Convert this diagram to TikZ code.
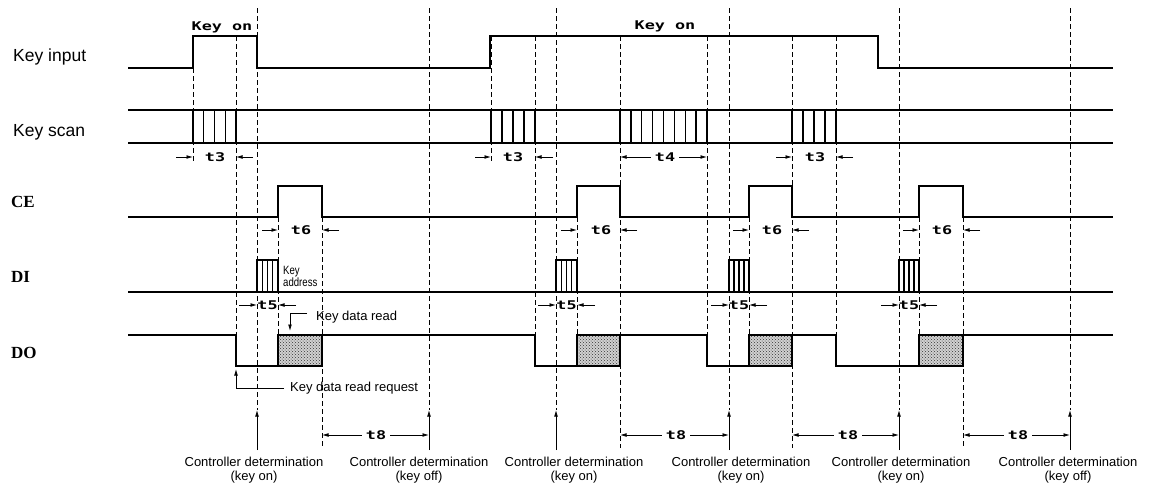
\documentclass[tikz,border=0pt]{standalone}
\usepackage{fontspec}
\setmainfont{Liberation Sans}
\newfontfamily\serifb{Liberation Serif}
\newfontfamily\plotfont{DejaVu Sans Mono}
\usetikzlibrary{arrows.meta,patterns}
\newcommand\plt[1]{\scalebox{1.4}[1]{#1}}
\begin{document}
\begin{tikzpicture}[x=1pt,y=-1pt,
  sig/.style={line width=1.6pt, line join=miter},
  bar/.style={line width=1.4pt},
  dsh/.style={line width=0.9pt, dash pattern=on 5pt off 3pt},
  arr/.style={line width=0.8pt,-{Latex[length=6.5pt,width=3.8pt]}},
  lbl/.style={anchor=west, inner sep=0pt, font=\fontsize{17.5}{20}\selectfont},
  lblser/.style={anchor=west, inner sep=0pt, font=\fontsize{17}{20}\serifb\bfseries},
  tl/.style={inner sep=0pt, font=\fontsize{12}{12}\plotfont\bfseries},
  ctl/.style={align=center, inner sep=0pt, font=\fontsize{13}{14}\selectfont},
  note/.style={anchor=west, inner sep=0pt, font=\fontsize{13}{14}\selectfont},
  small/.style={anchor=west, inner sep=0pt, align=left, font=\fontsize{12}{13}\selectfont},
  shadebase/.style={fill=black!18},
  shade/.style={pattern=crosshatch dots, pattern color=black!80},
]
\useasboundingbox (0,0) rectangle (1149,488);

% ---------- signal labels ----------
\node[lbl] (lki) at (13,57) {Key input};
\node[lbl] (lks) at (13,132) {Key scan};
\node[lblser] (lce) at (11,202) {CE};
\node[lblser] (ldi) at (11,277) {DI};
\node[lblser] (ldo) at (11,353) {DO};

% ---------- dashed guide lines ----------
\foreach \x/\ya/\yb in {193/36/163, 236/36/335, 278/217/335, 322/217/448,
  491/36/163, 535/36/335, 577/217/335, 620/36/448, 707/36/335, 749/217/335,
  792/36/448, 836/36/335, 919/217/335, 963/217/448}
  \draw[dsh] (\x,\ya) -- (\x,\yb);

% controller determination lines
\foreach \x in {257,429,556,729,899,1070} {
  \draw[dsh] (\x,8) -- (\x,410);
  \draw[arr] (\x,450) -- (\x,410);
}

% ---------- Key input ----------
\draw[sig] (128,68) -- (193,68) -- (193,36) -- (257,36) -- (257,68) -- (490,68)
  -- (490,36) -- (878,36) -- (878,68) -- (1113,68);
\node[tl] (kon1) at (222,27) {\plt{Key on}};
\node[tl] (kon2) at (665,26) {\plt{Key on}};

% ---------- Key scan ----------
\draw[sig] (128,110) -- (1113,110);
\draw[sig] (128,143) -- (1113,143);
\foreach \a/\b/\n in {193/236/4, 491/535/4, 620/707/8, 792/836/4}
  \foreach \k in {0,...,\n}
    \draw[bar] ({\a+\k*(\b-\a)/\n},110) -- ({\a+\k*(\b-\a)/\n},143);

% t3 / t4
\node[tl] (t3a) at (215,157) {\plt{t3}};
\draw[arr] (176,157) -- (193,157);
\draw[arr] (253,157) -- (236,157);
\node[tl] (t3b) at (513,157) {\plt{t3}};
\draw[arr] (475,157) -- (491,157);
\draw[arr] (553,157) -- (535,157);
\node[tl] (t4) at (665,157) {\plt{t4}};
\draw[arr] ([xshift=-4pt]t4.west) -- (620,157);
\draw[arr] ([xshift=4pt]t4.east) -- (707,157);
\node[tl] (t3c) at (815,157) {\plt{t3}};
\draw[arr] (776,157) -- (792,157);
\draw[arr] (853,157) -- (836,157);

% ---------- CE ----------
\draw[sig] (128,217) -- (278,217) -- (278,186) -- (322,186) -- (322,217)
  -- (577,217) -- (577,186) -- (620,186) -- (620,217)
  -- (749,217) -- (749,186) -- (792,186) -- (792,217)
  -- (919,217) -- (919,186) -- (963,186) -- (963,217) -- (1113,217);

\foreach \a/\b/\c/\nm in {278/322/301/t6a, 577/620/601/t6b, 749/792/772/t6c, 919/963/942/t6d} {
  \node[tl] (\nm) at (\c,230) {\plt{t6}};
  \draw[arr] (\a-16,230) -- (\a,230);
  \draw[arr] (\b+17,230) -- (\b,230);
}

% ---------- DI ----------
\draw[sig] (128,292) -- (1113,292);
\foreach \a/\b in {257/278, 556/577, 729/749, 899/919} {
  \draw[sig] (\a,292) -- (\a,260) -- (\b,260) -- (\b,292);
  \foreach \k in {1,2,3}
    \draw[bar] ({\a+\k*(\b-\a)/4},260) -- ({\a+\k*(\b-\a)/4},292);
}
\node[small] (kaddr) at (283,276) {\scalebox{0.8}[1]{Key}\\[-1pt]\scalebox{0.8}[1]{address}};

\foreach \a/\b/\nm in {257/278/t5a, 556/577/t5b, 729/749/t5c, 899/919/t5d} {
  \node[tl] (\nm) at ({(\a+\b)/2},305) {\plt{t5}};
  \draw[arr] (\a-18,305) -- (\a,305);
  \draw[arr] (\b+18,305) -- (\b,305);
}

% key data read
\node[note] (kdr) at (316,317) {Key data read};
\draw[arr] (307,313) -- (290,313) -- (290,331);

% ---------- DO ----------
\foreach \a/\b in {278/322, 577/620, 749/792, 919/963} {
  \fill[shadebase] (\a,335) rectangle (\b,366);
  \fill[shade] (\a,335) rectangle (\b,366);
}
\draw[sig] (128,335) -- (236,335) -- (236,366) -- (322,366) -- (322,335)
  -- (535,335) -- (535,366) -- (620,366) -- (620,335)
  -- (707,335) -- (707,366) -- (792,366) -- (792,335)
  -- (836,335) -- (836,366) -- (963,366) -- (963,335) -- (1113,335);
\foreach \a/\b in {278/322, 577/620, 749/792, 919/963}
  \draw[sig] (\a,366) -- (\a,335) -- (\b,335);

% key data read request
\node[note] (kdrr) at (290,388) {Key data read request};
\draw[arr] (284,388) -- (236,388) -- (236,369);

% ---------- t8 ----------
\foreach \a/\b/\c/\nm in {322/429/376/t8a, 620/729/676/t8b, 792/899/848/t8c, 963/1070/1018/t8d} {
  \node[tl] (\nm) at (\c,435) {\plt{t8}};
  \draw[arr] ([xshift=-4pt]\nm.west) -- (\a,435);
  \draw[arr] ([xshift=4pt]\nm.east) -- (\b,435);
}

% ---------- controller determination labels ----------
\node[ctl] (cd1) at (254,470) {Controller determination\\(key on)};
\node[ctl] (cd2) at (419,470) {Controller determination\\(key off)};
\node[ctl] (cd3) at (574,470) {Controller determination\\(key on)};
\node[ctl] (cd4) at (741,470) {Controller determination\\(key on)};
\node[ctl] (cd5) at (901,470) {Controller determination\\(key on)};
\node[ctl] (cd6) at (1068,470) {Controller determination\\(key off)};
\end{tikzpicture}
\end{document}
